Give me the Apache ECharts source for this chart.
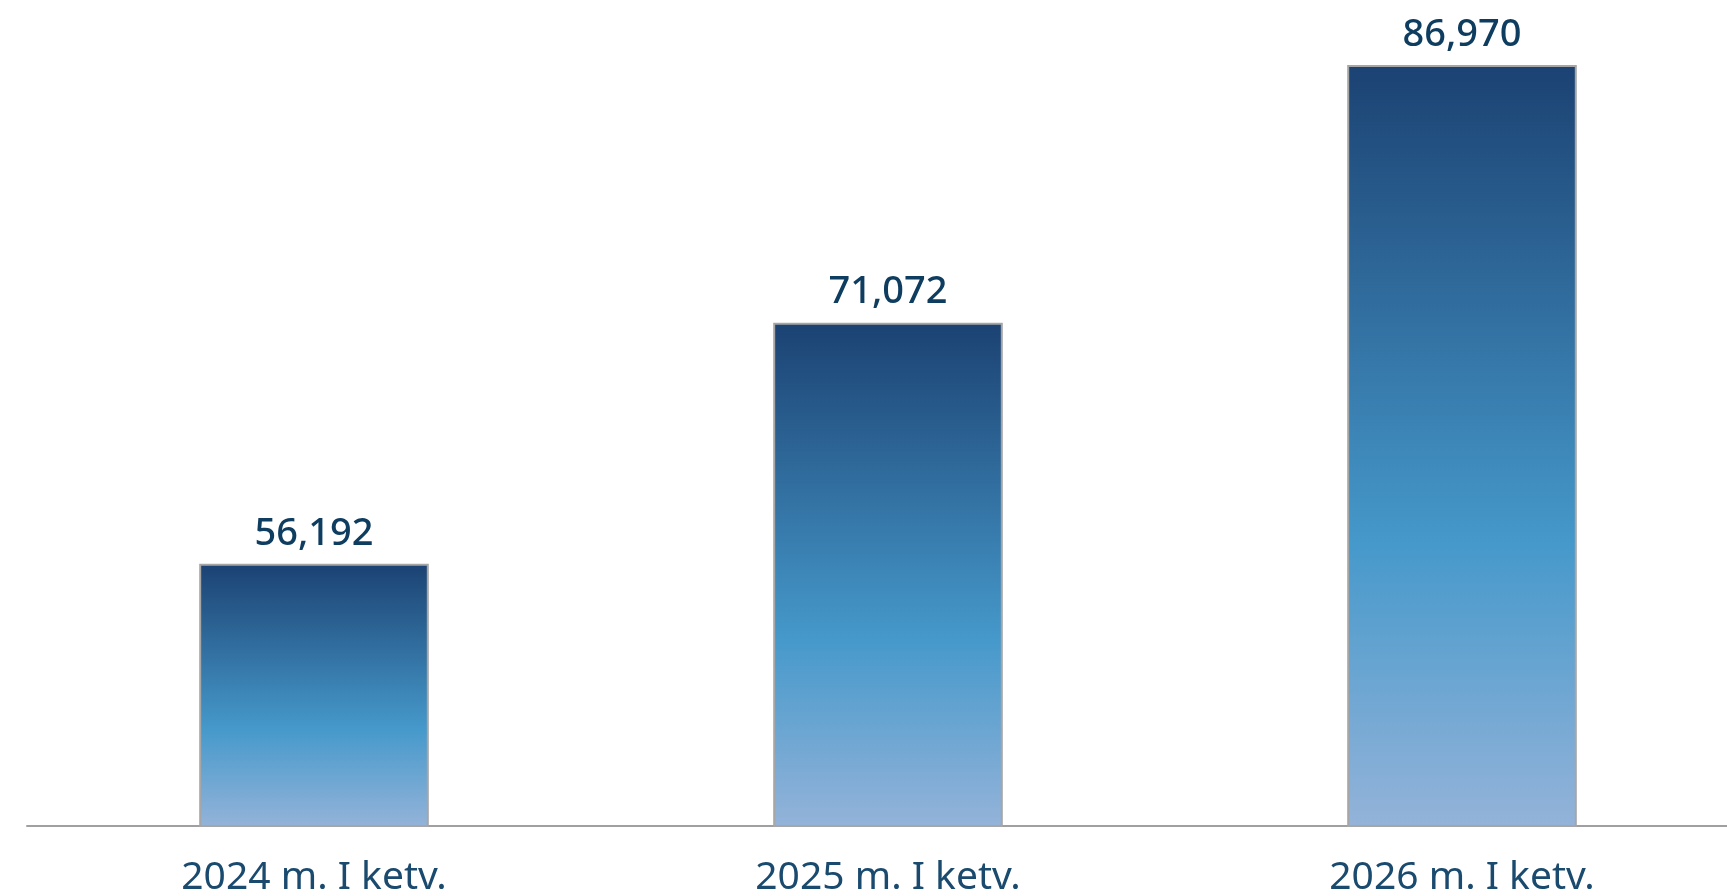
<!DOCTYPE html>
<html>
<head>
<meta charset="utf-8">
<script src="https://cdn.jsdelivr.net/npm/echarts@6/dist/echarts.min.js"></script>
<style>html,body{margin:0;padding:0;background:#fff;}#c{width:1727px;height:896px;}</style>
</head>
<body>
<div id="c"></div>
<script>
const categories = ['2024 m. I ketv.', '2025 m. I ketv.', '2026 m. I ketv.'];
const values = [56192, 71072, 86970];

const chart = echarts.init(document.getElementById('c'));
const fmt = v => String(v).replace(/\B(?=(\d{3})+(?!\d))/g, ',');
chart.setOption({
  animation: false,
  grid: { left: 27, width: 1722, top: 16, bottom: 70, outerBoundsMode: 'none', containLabel: false },
  xAxis: {
    type: 'category',
    data: categories,
    axisLine: { lineStyle: { color: '#a0a0a0', width: 2 } },
    axisTick: { show: false },
    axisLabel: { color: '#1a4a6e', fontSize: 39, fontFamily: 'Noto Sans', margin: 32 }
  },
  yAxis: {
    type: 'value', min: 40000, max: 90000,
    show: false, splitLine: { show: false }
  },
  series: [{
    type: 'bar',
    data: values,
    barWidth: '40%',
    itemStyle: {
      borderColor: '#a6a6a6', borderWidth: 2,
      color: new echarts.graphic.LinearGradient(0, 0, 0, 1, [
        { offset: 0, color: '#1b4272' },
        { offset: 0.63, color: '#4699cb' },
        { offset: 1, color: '#94b3d9' }
      ])
    },
    label: {
      show: true, position: 'top', distance: 11,
      color: '#0f3d60', fontSize: 38, fontWeight: 500, fontFamily: 'Noto Sans',
      formatter: p => fmt(p.value)
    }
  }]
});
</script>
</body>
</html>
